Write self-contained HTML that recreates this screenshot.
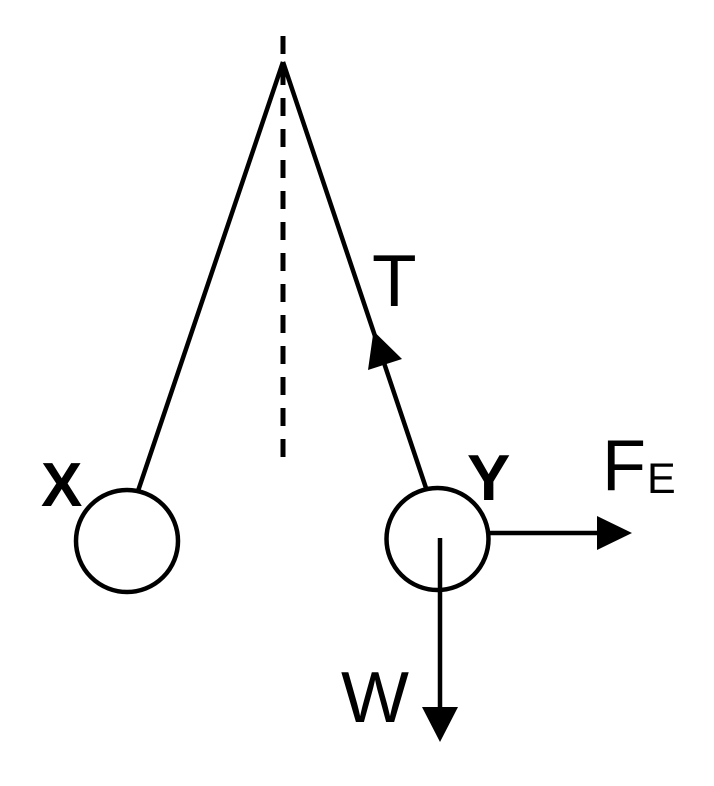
<!DOCTYPE html>
<html><head><style>html,body{margin:0;padding:0;background:#fff}svg{display:block}</style></head>
<body>
<svg width="714" height="786" viewBox="0 0 714 786" xmlns="http://www.w3.org/2000/svg" font-family="Liberation Sans, sans-serif">
<line x1="283" y1="36" x2="283" y2="458" stroke="#000" stroke-width="5" stroke-dasharray="18,13"/>
<line x1="283" y1="62" x2="138" y2="491" stroke="#000" stroke-width="4.5"/>
<line x1="283" y1="62" x2="426" y2="488" stroke="#000" stroke-width="4.5"/>
<circle cx="127" cy="541" r="51" fill="#fff" stroke="#000" stroke-width="4.5"/>
<circle cx="437.5" cy="539" r="51" fill="#fff" stroke="#000" stroke-width="4.5"/>
<polygon points="373.5,331 368,370 402,359" fill="#000"/>
<line x1="489" y1="533" x2="600" y2="533" stroke="#000" stroke-width="4.5"/>
<polygon points="632,533 597,516 597,550" fill="#000"/>
<line x1="440" y1="538" x2="440" y2="710" stroke="#000" stroke-width="4.5"/>
<polygon points="440,742 422,707 458,707" fill="#000"/>
<text x="372" y="306" font-size="73">T</text>
<text x="467" y="500" font-size="65" font-weight="bold">Y</text>
<text x="41" y="506" font-size="62" font-weight="bold">X</text>
<text x="602" y="490" font-size="72">F</text>
<text x="647" y="493" font-size="43">E</text>
<text x="341" y="722" font-size="72">W</text>
</svg>
</body></html>
